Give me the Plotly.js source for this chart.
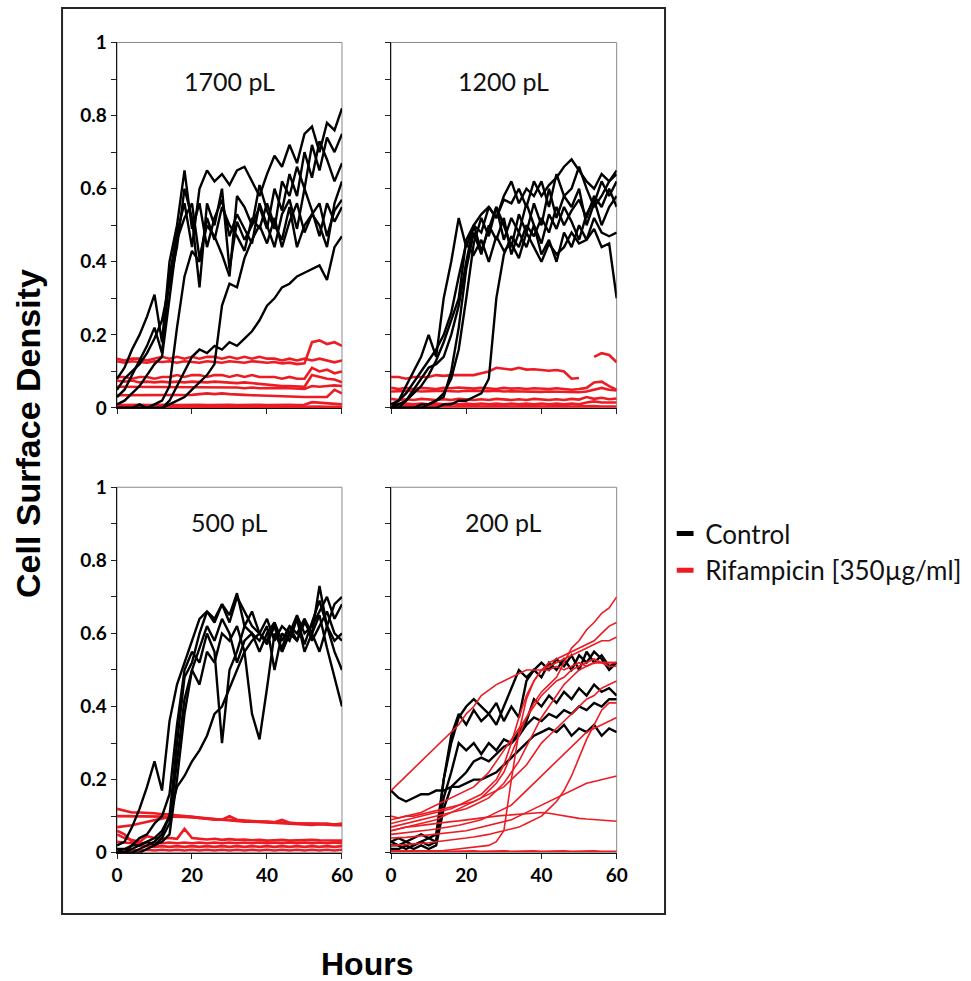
<!DOCTYPE html>
<html><head><meta charset="utf-8">
<script src="https://cdn.plot.ly/plotly-3.0.1.min.js"></script>
<style>html,body{margin:0;padding:0;background:#fff}#chart{width:971px;height:981px}</style>
</head><body><div id="chart"></div>
<script>
// ---------- DATA ----------
const HOURS = [0,2,4,6,8,10,12,14,16,18,20,22,24,26,28,30,32,34,36,38,40,42,44,46,48,50,52,54,56,58,60];
const PANEL_TITLES = ['1700 pL','1200 pL','500 pL','200 pL'];
const X_TICKS = [0,20,40,60];
const Y_TICKS = [0,0.1,0.2,0.3,0.4,0.5,0.6,0.7,0.8,0.9,1];
const Y_TICK_TEXT = ['0','','0.2','','0.4','','0.6','','0.8','','1'];
const LEGEND_NAMES = ['Control','Rifampicin [350µg/ml]'];
const Y_TITLE = 'Cell Surface Density';
const X_TITLE = 'Hours';

// 1700 pL – control
const c1700_1 = [0.08,0.11,0.16,0.2,0.25,0.31,0.18,0.4,0.5,0.65,0.49,0.56,0.44,0.52,0.57,0.47,0.53,0.49,0.45,0.56,0.5,0.44,0.53,0.57,0.49,0.6,0.54,0.47,0.56,0.51,0.55];
const c1700_2 = [0.03,0.05,0.09,0.13,0.17,0.22,0.15,0.36,0.48,0.56,0.44,0.6,0.65,0.62,0.64,0.61,0.65,0.66,0.62,0.58,0.64,0.69,0.66,0.72,0.67,0.75,0.77,0.7,0.78,0.76,0.82];
const c1700_3 = [0.01,0.02,0.04,0.06,0.09,0.12,0.14,0.3,0.46,0.52,0.56,0.41,0.5,0.47,0.42,0.36,0.58,0.55,0.5,0.61,0.54,0.49,0.62,0.58,0.66,0.6,0.72,0.65,0.74,0.7,0.75];
const c1700_4 = [0,0,0,0.01,0,0.01,0.02,0.06,0.22,0.36,0.43,0.4,0.52,0.46,0.55,0.5,0.47,0.43,0.52,0.49,0.56,0.5,0.46,0.55,0.44,0.5,0.53,0.56,0.47,0.54,0.57];
const c1700_5 = [0,0,0,0,0,0,0,0.01,0.02,0.03,0.05,0.07,0.09,0.12,0.28,0.34,0.33,0.41,0.46,0.5,0.45,0.52,0.44,0.51,0.56,0.48,0.53,0.5,0.44,0.56,0.62];
const c1700_6 = [0,0,0,0,0,0,0,0.02,0.06,0.1,0.14,0.16,0.15,0.17,0.16,0.18,0.17,0.19,0.21,0.24,0.28,0.3,0.33,0.34,0.36,0.37,0.38,0.39,0.35,0.44,0.47];
const c1700_7 = [0.05,0.08,0.1,0.12,0.15,0.19,0.24,0.34,0.44,0.6,0.52,0.33,0.56,0.5,0.6,0.38,0.51,0.46,0.5,0.55,0.49,0.6,0.54,0.64,0.58,0.7,0.63,0.73,0.68,0.62,0.67];
// 1700 pL – rifampicin
const r1700_1 = [0.135,0.13,0.135,0.135,0.13,0.135,0.14,0.135,0.14,0.135,0.14,0.135,0.14,0.14,0.135,0.14,0.135,0.14,0.135,0.14,0.135,0.135,0.13,0.135,0.13,0.135,0.13,0.135,0.13,0.125,0.13];
const r1700_2 = [0.128,0.124,0.128,0.126,0.124,0.128,0.126,0.128,0.124,0.128,0.126,0.124,0.128,0.126,0.124,0.128,0.126,0.124,0.128,0.126,0.124,0.126,0.122,0.124,0.12,0.122,0.18,0.185,0.175,0.18,0.17];
const r1700_3 = [0.085,0.085,0.08,0.085,0.085,0.08,0.085,0.085,0.09,0.085,0.09,0.09,0.085,0.09,0.09,0.085,0.09,0.085,0.09,0.085,0.085,0.085,0.08,0.085,0.08,0.08,0.11,0.1,0.105,0.095,0.1];
const r1700_4 = [0.075,0.072,0.075,0.07,0.072,0.07,0.072,0.07,0.072,0.07,0.072,0.07,0.07,0.072,0.07,0.07,0.068,0.07,0.068,0.066,0.065,0.062,0.06,0.06,0.06,0.058,0.09,0.085,0.08,0.078,0.07];
const r1700_5 = [0.058,0.058,0.056,0.058,0.056,0.058,0.056,0.058,0.058,0.056,0.058,0.056,0.058,0.056,0.058,0.056,0.056,0.054,0.056,0.054,0.055,0.054,0.055,0.054,0.052,0.052,0.06,0.058,0.06,0.062,0.06];
const r1700_6 = [0.035,0.035,0.034,0.036,0.035,0.035,0.036,0.034,0.036,0.035,0.036,0.038,0.04,0.038,0.04,0.038,0.036,0.036,0.035,0.034,0.034,0.032,0.032,0.03,0.03,0.03,0.03,0.03,0.03,0.05,0.04];
const r1700_7 = [0.008,0.009,0.008,0.009,0.008,0.009,0.008,0.009,0.008,0.009,0.008,0.009,0.008,0.009,0.008,0.009,0.008,0.009,0.008,0.009,0.008,0.009,0.008,0.009,0.008,0.009,0.016,0.015,0.014,0.012,0.01];
const r1700_8 = [0.003,0.004,0.003,0.004,0.003,0.004,0.003,0.004,0.003,0.004,0.003,0.004,0.003,0.004,0.003,0.004,0.003,0.004,0.003,0.004,0.003,0.004,0.003,0.004,0.003,0.004,0.003,0.004,0.003,0.004,0.003];

// 1200 pL – control
const c1200_1 = [0,0.02,0.06,0.1,0.14,0.2,0.14,0.3,0.4,0.52,0.44,0.5,0.43,0.49,0.55,0.46,0.52,0.48,0.56,0.5,0.45,0.53,0.49,0.55,0.51,0.46,0.53,0.57,0.5,0.55,0.58];
const c1200_2 = [0,0,0.02,0.05,0.08,0.11,0.12,0.14,0.2,0.28,0.4,0.5,0.48,0.55,0.52,0.57,0.56,0.6,0.55,0.62,0.58,0.61,0.63,0.66,0.68,0.65,0.62,0.6,0.64,0.62,0.64];
const c1200_3 = [0,0,0,0,0.01,0.01,0.02,0.04,0.08,0.16,0.3,0.45,0.52,0.47,0.55,0.5,0.44,0.53,0.48,0.56,0.5,0.6,0.52,0.58,0.55,0.6,0.5,0.56,0.62,0.58,0.62];
const c1200_4 = [0,0,0,0,0,0.01,0.02,0.03,0.1,0.22,0.38,0.48,0.42,0.5,0.46,0.52,0.42,0.48,0.44,0.5,0.42,0.46,0.4,0.48,0.44,0.5,0.46,0.52,0.48,0.47,0.48];
const c1200_5 = [0,0,0,0,0,0,0,0.01,0.01,0.02,0.02,0.03,0.04,0.08,0.3,0.42,0.47,0.44,0.5,0.47,0.52,0.48,0.55,0.5,0.54,0.57,0.52,0.58,0.55,0.6,0.55];
const c1200_6 = [0.01,0.02,0.04,0.07,0.1,0.13,0.16,0.2,0.26,0.36,0.45,0.42,0.46,0.4,0.47,0.43,0.45,0.41,0.48,0.44,0.4,0.45,0.42,0.44,0.48,0.45,0.46,0.49,0.44,0.45,0.3];
const c1200_7 = [0,0.01,0.02,0.04,0.06,0.09,0.13,0.18,0.24,0.3,0.46,0.5,0.53,0.55,0.52,0.58,0.62,0.56,0.6,0.58,0.62,0.55,0.64,0.58,0.6,0.66,0.6,0.55,0.58,0.62,0.65];
// 1200 pL – rifampicin
const r1200_1 = [0.085,0.085,0.08,0.085,0.085,0.085,0.09,0.088,0.09,0.09,0.092,0.09,0.095,0.1,0.11,0.108,0.105,0.11,0.105,0.106,0.104,0.102,0.104,0.1,0.08,0.082,null,0.14,0.15,0.145,0.125];
const r1200_2 = [0.055,0.052,0.055,0.052,0.055,0.053,0.052,0.055,0.054,0.056,0.055,0.053,0.055,0.054,0.052,0.055,0.053,0.054,0.052,0.054,0.053,0.052,0.054,0.053,0.05,0.052,0.055,0.07,0.072,0.06,0.05];
const r1200_3 = [0.045,0.046,0.045,0.047,0.045,0.046,0.045,0.047,0.046,0.045,0.047,0.046,0.045,0.046,0.047,0.045,0.046,0.045,0.044,0.045,0.044,0.045,0.044,0.043,0.044,0.043,0.045,0.05,0.055,0.05,0.048];
const r1200_4 = [0.025,0.022,0.024,0.022,0.025,0.023,0.022,0.024,0.022,0.025,0.023,0.022,0.024,0.022,0.025,0.023,0.022,0.024,0.022,0.025,0.023,0.022,0.024,0.022,0.025,0.023,0.03,0.025,0.028,0.024,0.026];
const r1200_5 = [0.012,0.01,0.012,0.01,0.012,0.01,0.012,0.01,0.012,0.01,0.012,0.01,0.012,0.01,0.012,0.01,0.012,0.01,0.012,0.01,0.012,0.01,0.012,0.01,0.012,0.01,0.015,0.018,0.015,0.014,0.015];
const r1200_6 = [0.004,0.005,0.004,0.005,0.004,0.005,0.004,0.005,0.004,0.005,0.004,0.005,0.004,0.005,0.004,0.005,0.004,0.005,0.004,0.005,0.004,0.005,0.004,0.005,0.004,0.005,0.004,0.005,0.004,0.005,0.004];

// 500 pL – control
const c500_1 = [0.02,0.03,0.07,0.12,0.18,0.25,0.17,0.36,0.46,0.52,0.58,0.64,0.66,0.64,0.68,0.63,0.7,0.66,0.62,0.6,0.64,0.58,0.62,0.6,0.65,0.6,0.62,0.66,0.7,0.64,0.68];
const c500_2 = [0,0,0,0.01,0.02,0.03,0.05,0.1,0.3,0.48,0.52,0.6,0.66,0.63,0.68,0.65,0.71,0.62,0.66,0.6,0.58,0.63,0.55,0.6,0.64,0.57,0.63,0.69,0.62,0.68,0.7];
const c500_3 = [0.01,0.01,0.02,0.02,0.03,0.02,0.04,0.08,0.25,0.42,0.5,0.46,0.55,0.52,0.6,0.58,0.62,0.55,0.38,0.31,0.45,0.6,0.56,0.62,0.58,0.64,0.6,0.55,0.62,0.58,0.6];
const c500_4 = [0,0,0.01,0.02,0.03,0.04,0.06,0.1,0.18,0.21,0.25,0.28,0.32,0.38,0.4,0.45,0.5,0.55,0.58,0.6,0.57,0.62,0.55,0.6,0.58,0.63,0.6,0.65,0.56,0.48,0.4];
const c500_5 = [0.01,0,0.02,0.04,0.05,0.08,0.1,0.16,0.35,0.5,0.55,0.52,0.6,0.55,0.3,0.5,0.55,0.62,0.6,0.58,0.62,0.5,0.6,0.58,0.64,0.55,0.6,0.73,0.62,0.55,0.5];
const c500_6 = [0,0,0,0,0.01,0.02,0.03,0.05,0.2,0.38,0.5,0.56,0.62,0.58,0.64,0.6,0.52,0.58,0.6,0.55,0.6,0.63,0.58,0.62,0.6,0.64,0.58,0.62,0.66,0.6,0.58];
// 500 pL – rifampicin
const r500_1 = [0.12,0.115,0.11,0.11,0.11,0.108,0.105,0.105,0.102,0.1,0.1,0.097,0.095,0.092,0.09,0.1,0.09,0.088,0.086,0.085,0.085,0.083,0.09,0.082,0.08,0.08,0.08,0.078,0.08,0.077,0.08];
const r500_2 = [0.1,0.1,0.1,0.1,0.1,0.1,0.1,0.1,0.1,0.1,0.098,0.095,0.092,0.09,0.09,0.088,0.086,0.085,0.085,0.084,0.082,0.08,0.08,0.08,0.078,0.078,0.076,0.078,0.076,0.075,0.075];
const r500_3 = [0.07,0.072,0.075,0.08,0.085,0.09,0.095,0.098,0.1,0.098,0.097,0.095,0.094,0.092,0.09,0.09,0.088,0.087,0.086,0.085,0.084,0.083,0.082,0.081,0.08,0.08,0.079,0.078,0.078,0.077,0.076];
const r500_4 = [0.05,0.04,0.035,0.03,0.045,0.04,0.038,0.04,0.038,0.065,0.04,0.038,0.036,0.038,0.035,0.037,0.035,0.036,0.034,0.035,0.033,0.034,0.035,0.033,0.034,0.033,0.035,0.034,0.033,0.034,0.033];
const r500_5 = [0.03,0.028,0.026,0.028,0.026,0.028,0.026,0.028,0.026,0.028,0.026,0.028,0.026,0.028,0.026,0.028,0.026,0.028,0.026,0.028,0.026,0.028,0.026,0.028,0.026,0.028,0.026,0.028,0.026,0.028,0.026];
const r500_6 = [0.06,0.05,0.03,0.02,0.018,0.016,0.018,0.016,0.018,0.016,0.018,0.016,0.018,0.016,0.018,0.016,0.018,0.016,0.018,0.016,0.018,0.016,0.018,0.016,0.018,0.016,0.018,0.016,0.018,0.016,0.018];
const r500_7 = [0.008,0.006,0.008,0.006,0.008,0.006,0.008,0.006,0.008,0.006,0.008,0.006,0.008,0.006,0.008,0.006,0.008,0.006,0.008,0.006,0.008,0.006,0.008,0.006,0.008,0.006,0.008,0.006,0.008,0.006,0.008];

// 200 pL – control
const c200_1 = [0.17,0.15,0.14,0.15,0.16,0.16,0.17,0.17,0.18,0.18,0.19,0.2,0.2,0.21,0.22,0.24,0.26,0.28,0.3,0.32,0.33,0.34,0.33,0.35,0.32,0.34,0.33,0.35,0.32,0.34,0.33];
const c200_2 = [0.02,0.02,0.01,0.02,0.03,0.02,0.03,0.2,0.3,0.37,0.4,0.42,0.4,0.38,0.41,0.36,0.4,0.37,0.47,0.5,0.48,0.52,0.5,0.53,0.5,0.54,0.52,0.55,0.53,0.5,0.52];
const c200_3 = [0.03,0.02,0.03,0.02,0.03,0.04,0.03,0.15,0.22,0.3,0.28,0.3,0.27,0.3,0.28,0.31,0.3,0.33,0.36,0.42,0.4,0.43,0.41,0.44,0.42,0.45,0.43,0.46,0.44,0.45,0.43];
const c200_4 = [0.01,0.01,0.02,0.01,0.02,0.01,0.02,0.12,0.18,0.2,0.22,0.25,0.26,0.25,0.27,0.29,0.3,0.32,0.35,0.37,0.36,0.38,0.37,0.39,0.38,0.4,0.39,0.41,0.4,0.42,0.42];
const c200_5 = [0.03,0.04,0.03,0.04,0.05,0.04,0.05,0.2,0.32,0.38,0.35,0.39,0.36,0.38,0.35,0.4,0.45,0.5,0.48,0.5,0.52,0.5,0.53,0.51,0.54,0.5,0.55,0.52,0.54,0.51,0.52];
// 200 pL – rifampicin
const r200_1 = [0.17,0.19,0.21,0.23,0.25,0.27,0.29,0.31,0.33,0.35,0.38,0.4,0.43,0.445,0.46,0.47,0.48,0.49,0.5,0.5,0.5,0.5,0.51,0.5,0.51,0.52,0.51,0.52,0.52,0.51,0.51];
const r200_2 = [0.06,0.065,0.07,0.075,0.08,0.085,0.09,0.1,0.11,0.12,0.13,0.14,0.15,0.17,0.19,0.22,0.27,0.32,0.37,0.41,0.44,0.46,0.48,0.52,0.56,0.58,0.61,0.63,0.655,0.67,0.7];
const r200_3 = [0.08,0.085,0.09,0.095,0.1,0.105,0.11,0.115,0.12,0.13,0.14,0.15,0.16,0.18,0.2,0.24,0.3,0.37,0.43,0.47,0.5,0.52,0.53,0.54,0.55,0.56,0.57,0.58,0.6,0.62,0.63];
const r200_4 = [0.005,0.005,0.005,0.005,0.005,0.005,0.005,0.006,0.008,0.01,0.012,0.014,0.016,0.02,0.03,0.06,0.2,0.33,0.42,0.47,0.5,0.51,0.52,0.53,0.54,0.55,0.56,0.57,0.58,0.58,0.59];
const r200_5 = [0.07,0.075,0.08,0.085,0.09,0.095,0.1,0.105,0.11,0.115,0.12,0.13,0.14,0.15,0.17,0.19,0.22,0.25,0.29,0.33,0.37,0.4,0.43,0.46,0.48,0.5,0.51,0.52,0.52,0.52,0.52];
const r200_6 = [0.09,0.095,0.1,0.1,0.105,0.11,0.115,0.12,0.125,0.13,0.135,0.14,0.15,0.16,0.17,0.18,0.2,0.22,0.24,0.27,0.3,0.32,0.34,0.36,0.38,0.4,0.42,0.43,0.45,0.46,0.47];
const r200_7 = [0.02,0.02,0.022,0.024,0.025,0.027,0.03,0.032,0.035,0.037,0.04,0.043,0.046,0.05,0.055,0.06,0.065,0.07,0.08,0.09,0.1,0.12,0.14,0.17,0.21,0.26,0.31,0.35,0.39,0.41,0.41];
const r200_8 = [0.05,0.052,0.055,0.058,0.06,0.062,0.065,0.068,0.07,0.075,0.08,0.085,0.09,0.1,0.11,0.12,0.13,0.15,0.17,0.19,0.21,0.23,0.25,0.27,0.29,0.31,0.33,0.34,0.35,0.36,0.37];
const r200_9 = [0.04,0.04,0.042,0.044,0.046,0.048,0.05,0.052,0.055,0.058,0.06,0.065,0.07,0.075,0.08,0.085,0.09,0.1,0.11,0.12,0.13,0.14,0.15,0.16,0.17,0.18,0.19,0.195,0.2,0.205,0.21];
const r200_10 = [0.06,0.065,0.07,0.072,0.075,0.077,0.08,0.082,0.085,0.087,0.09,0.092,0.095,0.097,0.1,0.102,0.104,0.106,0.108,0.11,0.11,0.108,0.104,0.1,0.097,0.094,0.092,0.09,0.088,0.087,0.086];
const r200_11 = [0.004,0.005,0.004,0.005,0.004,0.005,0.004,0.005,0.004,0.005,0.004,0.005,0.004,0.005,0.004,0.005,0.004,0.005,0.004,0.005,0.004,0.005,0.004,0.005,0.004,0.005,0.004,0.005,0.004,0.005,0.004];
const r200_12 = [0.1,0.095,0.1,0.105,0.11,0.12,0.13,0.14,0.15,0.16,0.17,0.18,0.2,0.22,0.25,0.28,0.31,0.34,0.37,0.4,0.43,0.45,0.47,0.48,0.5,0.51,0.52,0.53,0.52,0.52,0.52];

const CONTROL_1700 = [c1700_1,c1700_2,c1700_3,c1700_4,c1700_5,c1700_6,c1700_7];
const RIF_1700 = [r1700_1,r1700_2,r1700_3,r1700_4,r1700_5,r1700_6,r1700_7,r1700_8];
const CONTROL_1200 = [c1200_1,c1200_2,c1200_3,c1200_4,c1200_5,c1200_6,c1200_7];
const RIF_1200 = [r1200_1,r1200_2,r1200_3,r1200_4,r1200_5,r1200_6];
const CONTROL_500 = [c500_1,c500_2,c500_3,c500_4,c500_5,c500_6];
const RIF_500 = [r500_1,r500_2,r500_3,r500_4,r500_5,r500_6,r500_7];
const CONTROL_200 = [c200_1,c200_2,c200_3,c200_4,c200_5];
const RIF_200 = [r200_1,r200_2,r200_3,r200_4,r200_5,r200_6,r200_7,r200_8,r200_9,r200_10,r200_11,r200_12];

// ---------- STYLE ----------
const BLACK = '#000000';
const RED = '#ec1c24';
const TICK_FONT = {family: 'Lato, "Open Sans", sans-serif', size: 19, color: '#000', weight: 'bold'};
const panels = [
  {ctrl: CONTROL_1700, rif: RIF_1700, xa: 'x',  ya: 'y',  redW: 2.6, redOnTop: false},
  {ctrl: CONTROL_1200, rif: RIF_1200, xa: 'x2', ya: 'y2', redW: 2.6, redOnTop: false},
  {ctrl: CONTROL_500,  rif: RIF_500,  xa: 'x3', ya: 'y3', redW: 2.6, redOnTop: false},
  {ctrl: CONTROL_200,  rif: RIF_200,  xa: 'x4', ya: 'y4', redW: 1.6, redOnTop: true}
];

const traces = [];
function addSet(list, color, width, xa, ya) {
  list.forEach(vals => traces.push({
    type: 'scatter', mode: 'lines', x: HOURS, y: vals, xaxis: xa, yaxis: ya,
    line: {color: color, width: width}, showlegend: false, hoverinfo: 'skip'
  }));
}
panels.forEach(p => {
  if (p.redOnTop) { addSet(p.ctrl, BLACK, 2.4, p.xa, p.ya); addSet(p.rif, RED, p.redW, p.xa, p.ya); }
  else { addSet(p.rif, RED, p.redW, p.xa, p.ya); addSet(p.ctrl, BLACK, 2.4, p.xa, p.ya); }
});
// legend entries
[BLACK, RED].forEach((col, i) => traces.push({
  type: 'scatter', mode: 'markers', x: [null], y: [null], xaxis: 'x', yaxis: 'y',
  name: LEGEND_NAMES[i], legendgroup: 'g' + i, showlegend: true,
  marker: {symbol: 'line-ew', size: 12, color: col, line: {width: 5, color: col}}
}));

const XD = [[0.1205, 0.3522], [0.4027, 0.6351]];
const YD = [[0.5841, 0.9567], [0.1308, 0.5033]];

function xAxis(dom, anchor, labels) {
  return {domain: dom, anchor: anchor, range: [0, 60], tickvals: X_TICKS, ticks: 'outside', ticklen: 5,
    tickwidth: 1, tickcolor: '#222', showline: true, linecolor: '#111', linewidth: 1.5,
    showgrid: false, zeroline: false, showticklabels: labels, tickfont: TICK_FONT, fixedrange: true};
}
function yAxis(dom, anchor, labels) {
  return {domain: dom, anchor: anchor, range: [0, 1], tickvals: Y_TICKS, ticktext: Y_TICK_TEXT, ticks: 'outside',
    ticklen: 5, tickwidth: 1, tickcolor: '#222', showline: true, linecolor: '#111', linewidth: 1.5,
    showgrid: false, zeroline: false, showticklabels: labels, tickfont: TICK_FONT, fixedrange: true};
}

const TITLE_FONT = {family: 'Lato, "Open Sans", sans-serif', size: 25, color: '#111'};
const annotations = [
  {text: PANEL_TITLES[0], xref: 'x domain', yref: 'y domain', x: 0.5, y: 0.895},
  {text: PANEL_TITLES[1], xref: 'x2 domain', yref: 'y2 domain', x: 0.5, y: 0.895},
  {text: PANEL_TITLES[2], xref: 'x3 domain', yref: 'y3 domain', x: 0.5, y: 0.905},
  {text: PANEL_TITLES[3], xref: 'x4 domain', yref: 'y4 domain', x: 0.5, y: 0.905}
].map(a => Object.assign(a, {showarrow: false, xanchor: 'center', yanchor: 'middle', font: TITLE_FONT}));
annotations.push({text: Y_TITLE, xref: 'paper', yref: 'paper', x: 0.0288, y: 0.5586, textangle: -90,
  showarrow: false, xanchor: 'center', yanchor: 'middle',
  font: {family: '"Liberation Sans", Arial, sans-serif', size: 34, color: '#000', weight: 'bold'}});
annotations.push({text: X_TITLE, xref: 'paper', yref: 'paper', x: 0.378, y: 0.017,
  showarrow: false, xanchor: 'center', yanchor: 'middle',
  font: {family: '"Liberation Sans", Arial, sans-serif', size: 32, color: '#000', weight: 'bold'}});

const shapes = [];
[['x','y'],['x2','y2'],['x3','y3'],['x4','y4']].forEach(([xa, ya]) => shapes.push({
  type: 'rect', xref: xa + ' domain', yref: ya + ' domain', x0: 0, x1: 1, y0: 0, y1: 1,
  line: {color: '#8a8a8a', width: 1}, layer: 'below'
}));
shapes.push({type: 'rect', xref: 'paper', yref: 'paper', x0: 0.0639, x1: 0.6849, y0: 0.0683, y1: 0.9918,
  line: {color: '#262626', width: 2}, layer: 'below'});

const layout = {
  width: 971, height: 981, margin: {l: 0, r: 0, t: 0, b: 0}, paper_bgcolor: '#fff', plot_bgcolor: 'rgba(0,0,0,0)',
  showlegend: true,
  legend: {x: 0.685, y: 0.48, xanchor: 'left', yanchor: 'top', bgcolor: 'rgba(0,0,0,0)', borderwidth: 0,
    tracegroupgap: 0, font: {family: 'Lato, "Open Sans", sans-serif', size: 26, color: '#111'}},
  xaxis: xAxis(XD[0], 'y', false), yaxis: yAxis(YD[0], 'x', true),
  xaxis2: xAxis(XD[1], 'y2', false), yaxis2: yAxis(YD[0], 'x2', false),
  xaxis3: xAxis(XD[0], 'y3', true), yaxis3: yAxis(YD[1], 'x3', true),
  xaxis4: xAxis(XD[1], 'y4', true), yaxis4: yAxis(YD[1], 'x4', false),
  annotations: annotations, shapes: shapes
};
Plotly.newPlot('chart', traces, layout, {staticPlot: true, displayModeBar: false});
</script>
</body></html>
